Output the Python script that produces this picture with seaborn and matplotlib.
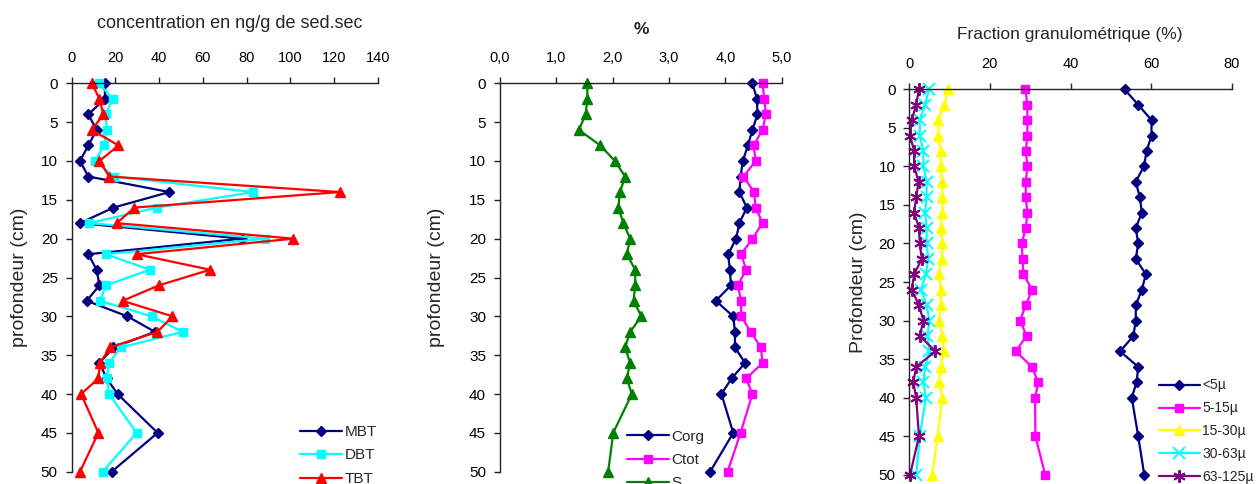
import matplotlib
matplotlib.use("Agg")
import matplotlib.pyplot as plt
import seaborn as sns
import numpy as np

# ---------------- data ----------------
depth = [0, 2, 4, 6, 8, 10, 12, 14, 16, 18, 20, 22, 24, 26, 28, 30, 32, 34, 36, 38, 40, 45, 50]

mbt = [15.2, 15.2, 7.6, 11.4, 7.6, 3.8, 7.6, 44.7, 19.1, 3.8, 77.8, 7.6, 11.4, 12.7, 6.9, 25.5, 38.1, 19.1, 12.7, 16.0, 21.0, 39.3, 18.3]
dbt = [12.5, 18.8, 15.5, 16.0, 14.8, 10.7, 19.4, 83.1, 38.9, 8.1, 88.5, 15.7, 35.8, 15.7, 13.0, 36.6, 50.8, 22.4, 17.1, 16.0, 17.1, 29.7, 14.2]
tbt = [9.2, 12.7, 14.5, 9.2, 21.4, 12.7, 17.2, 122.8, 28.7, 20.6, 101.4, 29.7, 63.3, 40.0, 23.3, 46.1, 39.2, 17.5, 13.0, 12.2, 4.3, 12.2, 3.8]

corg = [4.48, 4.56, 4.57, 4.48, 4.40, 4.31, 4.27, 4.25, 4.38, 4.25, 4.19, 4.05, 4.08, 4.10, 3.83, 4.14, 4.17, 4.17, 4.35, 4.11, 3.93, 4.14, 3.73]
ctot = [4.66, 4.69, 4.72, 4.66, 4.50, 4.54, 4.32, 4.51, 4.54, 4.66, 4.48, 4.28, 4.37, 4.22, 4.28, 4.28, 4.45, 4.63, 4.66, 4.37, 4.48, 4.27, 4.04]
soufre = [1.55, 1.55, 1.52, 1.40, 1.78, 2.04, 2.22, 2.13, 2.10, 2.19, 2.31, 2.25, 2.40, 2.40, 2.37, 2.51, 2.31, 2.22, 2.31, 2.25, 2.34, 2.01, 1.92]

f_lt5 = [53.4, 56.8, 60.1, 60.1, 58.9, 58.2, 56.2, 57.2, 57.7, 56.2, 56.8, 56.2, 58.7, 57.7, 56.2, 56.2, 55.6, 52.3, 56.8, 56.4, 55.2, 56.8, 58.3]
f_5_15 = [28.8, 29.3, 29.3, 29.3, 28.9, 29.3, 28.9, 28.9, 29.3, 28.9, 27.9, 28.1, 28.3, 30.5, 28.9, 27.5, 29.1, 26.4, 30.4, 32.0, 31.2, 31.3, 33.7]
f_15_30 = [9.7, 8.7, 7.2, 7.2, 7.8, 7.8, 8.2, 8.2, 8.2, 7.8, 8.2, 8.0, 7.4, 7.8, 7.8, 7.4, 8.2, 8.6, 7.8, 7.4, 8.2, 7.0, 5.7]
f_30_63 = [4.9, 3.9, 2.6, 2.6, 3.5, 3.5, 4.3, 4.3, 3.9, 4.3, 4.3, 4.7, 4.1, 2.9, 4.3, 5.0, 4.5, 5.0, 3.9, 3.5, 4.1, 2.6, 1.7]
f_63_125 = [2.4, 1.7, 0.6, 0.2, 1.2, 1.2, 2.3, 1.7, 1.2, 2.4, 2.6, 3.1, 1.2, 0.6, 2.4, 3.5, 2.6, 6.5, 1.7, 1.0, 1.7, 2.4, 0.2]

y_ticks = [0, 5, 10, 15, 20, 25, 30, 35, 40, 45, 50]
x1_ticks = [0, 20, 40, 60, 80, 100, 120, 140]
x2_ticks = [0, 1, 2, 3, 4, 5]
x2_labels = ["0,0", "1,0", "2,0", "3,0", "4,0", "5,0"]
x3_ticks = [0, 20, 40, 60, 80]

# ---------------- style ----------------
sns.set_style("white")
plt.rcParams["font.family"] = ["Liberation Sans", "DejaVu Sans"]

W, H = 1256, 484
fig = plt.figure(figsize=(W / 100, H / 100), dpi=100)

def px_axes(left, right, top, bottom):
    return fig.add_axes([left / W, 1 - bottom / H, (right - left) / W, (bottom - top) / H])

ax1 = px_axes(71.7, 377.7, 83.3, 471.7)
ax2 = px_axes(500.0, 781.7, 83.3, 471.7)
ax3 = px_axes(909.3, 1231.7, 89.3, 474.7)

NAVY, CYAN, RED = "#000080", "#00FFFF", "#FF0000"
MAG, GREEN, YEL, PURP = "#FF00FF", "#008000", "#FFFF00", "#800080"

def series(ax, vals, color, marker, label, ms=6, mew=1.0):
    sns.lineplot(x=vals, y=depth, ax=ax, sort=False, estimator=None, color=color,
                 marker=marker, markersize=ms, markeredgecolor=color, markerfacecolor=color,
                 markeredgewidth=mew, linewidth=1.6, clip_on=False, label=label, legend=False)

series(ax1, mbt, NAVY, "D", "MBT", ms=5.5)
series(ax1, dbt, CYAN, "s", "DBT", ms=5.5)
series(ax1, tbt, RED, "^", "TBT", ms=7)

series(ax2, corg, NAVY, "D", "Corg", ms=5.5)
series(ax2, ctot, MAG, "s", "Ctot", ms=5.5)
series(ax2, soufre, GREEN, "^", "S", ms=7)

series(ax3, f_lt5, NAVY, "D", "<5µ", ms=5.5)
series(ax3, f_5_15, MAG, "s", "5-15µ", ms=5.5)
series(ax3, f_15_30, YEL, "^", "15-30µ", ms=7)
series(ax3, f_30_63, CYAN, "x", "30-63µ", ms=8, mew=1.4)
series(ax3, f_63_125, PURP, (6, 2, 0), "63-125µ", ms=9, mew=1.4)

def style_axis(ax, xlim, xticks, xlabels=None):
    ax.set_xlim(*xlim)
    ax.set_ylim(50, 0)
    ax.xaxis.tick_top()
    ax.set_xticks(xticks)
    if xlabels is not None:
        ax.set_xticklabels(xlabels)
    ax.set_yticks(y_ticks)
    for s in ["right", "bottom"]:
        ax.spines[s].set_visible(False)
    for s in ["top", "left"]:
        ax.spines[s].set_visible(True)
        ax.spines[s].set_color("#222222")
        ax.spines[s].set_linewidth(1.0)
    ax.tick_params(axis="x", direction="out", length=4, width=1, pad=9, labelsize=10.5,
                   top=True, bottom=False, colors="#222222", labelcolor="black")
    ax.tick_params(axis="y", direction="out", length=4, width=1, pad=6, labelsize=11,
                   left=True, colors="#222222", labelcolor="black")
    ax.set_xlabel("")
    ax.grid(False)

style_axis(ax1, (0, 140), x1_ticks)
style_axis(ax2, (0, 5), x2_ticks, x2_labels)
style_axis(ax3, (0, 80), x3_ticks)

ax1.set_ylabel("profondeur (cm)", fontsize=14)
ax2.set_ylabel("profondeur (cm)", fontsize=14)
ax3.set_ylabel("Profondeur (cm)", fontsize=14)
ax1.yaxis.set_label_coords(-0.143, 0.5)
ax2.yaxis.set_label_coords(-0.195, 0.5)
ax3.yaxis.set_label_coords(-0.130, 0.5)

fig.text(229.7 / W, 1 - 23 / H, "concentration en ng/g de sed.sec", ha="center", va="center", fontsize=13)
fig.text(641 / W, 1 - 30 / H, "%", ha="center", va="center", fontsize=12.5, fontweight="bold")
fig.text(1070 / W, 1 - 34.3 / H, "Fraction granulométrique (%)", ha="center", va="center", fontsize=12.5)

def add_legend(ax, x_px, top_px, fs=11, spacing=0.62, hl=2.75):
    h, l = ax.get_legend_handles_labels()
    ax.legend(h, l, loc="upper left", bbox_to_anchor=(x_px / W, 1 - top_px / H),
              bbox_transform=fig.transFigure, frameon=False, fontsize=fs,
              handlelength=hl, handletextpad=0.15, borderpad=0, borderaxespad=0,
              labelspacing=spacing)

add_legend(ax1, 300, 425)
add_legend(ax2, 627, 429.5)
add_legend(ax3, 1159, 378.5, fs=10, spacing=0.64, hl=2.95)

fig.savefig("out.png", dpi=100)
